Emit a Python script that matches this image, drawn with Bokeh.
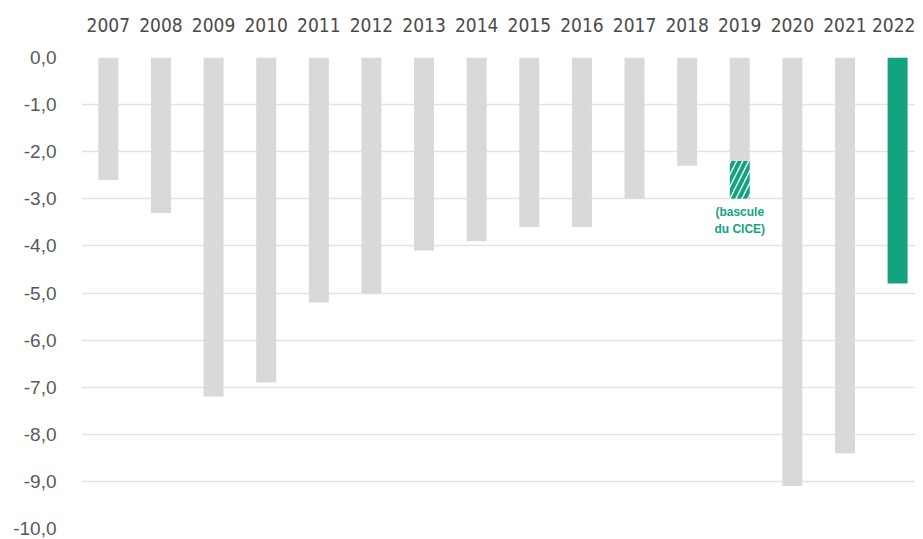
from bokeh.plotting import figure
from bokeh.models import Range1d, FixedTicker, CustomJSTickFormatter, LinearAxis, ColumnDataSource
from bokeh.core.properties import value
from bokeh.embed import file_html
from bokeh.resources import INLINE

years = [2007, 2008, 2009, 2010, 2011, 2012, 2013, 2014, 2015, 2016, 2017, 2018, 2019, 2020, 2021, 2022]
values = [-2.6, -3.3, -7.2, -6.9, -5.2, -5.0, -4.1, -3.9, -3.6, -3.6, -3.0, -2.3, -2.2, -9.1, -8.4, -4.8]
highlight_year = 2022
cice_year = 2019
cice_top = -2.2
cice_bottom = -3.0
cice_label = ["(bascule", "du CICE)"]
y_ticks = [0, -1, -2, -3, -4, -5, -6, -7, -8, -9, -10]

GREY = "#d9d9d9"
GREEN = "#14a37f"

grey_years = [y for y in years if y != highlight_year]
grey_vals = [v for y, v in zip(years, values) if y != highlight_year]
green_years = [y for y in years if y == highlight_year]
green_vals = [v for y, v in zip(years, values) if y == highlight_year]

p = figure(width=915, height=539, output_backend="svg", toolbar_location=None,
           x_range=Range1d(years[0] - 0.51, years[-1] + 0.34),
           y_range=Range1d(-10, 0), x_axis_location=None,
           min_border_left=81, min_border_right=0, min_border_top=57, min_border_bottom=11)
p.outline_line_color = None
p.background_fill_color = "white"
p.border_fill_color = "white"

p.vbar(x=grey_years, top=0, bottom=grey_vals, width=0.38, fill_color=GREY, line_color=None)
p.vbar(x=green_years, top=0, bottom=green_vals, width=0.38, fill_color=GREEN, line_color=None)
p.vbar(x=[cice_year], top=cice_top, bottom=cice_bottom, width=0.38, fill_color="white",
       line_color=None, hatch_pattern="right_diagonal_line", hatch_color=GREEN,
       hatch_weight=4, hatch_scale=12)

src = ColumnDataSource(dict(x=[cice_year, cice_year], y=[cice_bottom, cice_bottom],
                            t=cice_label, off=[13, 30]))
p.text(x="x", y="y", text="t", y_offset="off", source=src, text_align="center",
       text_baseline="middle", text_color=GREEN, text_font=value("Liberation Sans"),
       text_font_size="12px", text_font_style="bold")

# y axis
p.yaxis.ticker = FixedTicker(ticks=y_ticks)
p.yaxis.formatter = CustomJSTickFormatter(code="return tick.toFixed(1).replace('.', ',');")
p.yaxis.axis_line_color = None
p.yaxis.major_tick_line_color = None
p.yaxis.minor_tick_line_color = None
p.yaxis.major_label_standoff = 19
p.yaxis.major_label_text_font = "Liberation Sans"
p.yaxis.major_label_text_font_size = "19px"
p.yaxis.major_label_text_color = "#595959"

p.ygrid.ticker = FixedTicker(ticks=y_ticks)
p.ygrid.grid_line_color = "#e2e2e2"
p.ygrid.grid_line_width = 1.5
p.xgrid.grid_line_color = None

top_axis = LinearAxis(ticker=FixedTicker(ticks=years))
top_axis.axis_line_color = None
top_axis.major_tick_line_color = None
top_axis.minor_tick_line_color = None
top_axis.major_label_standoff = 20
top_axis.major_label_text_font = "Liberation Sans Narrow, Arial Narrow, DejaVu Sans Condensed, Liberation Sans"
top_axis.major_label_text_font_size = "19px"
top_axis.major_label_text_color = "#4a4a4a"
p.add_layout(top_axis, "above")

open("out.html", "w").write(file_html(p, INLINE))
